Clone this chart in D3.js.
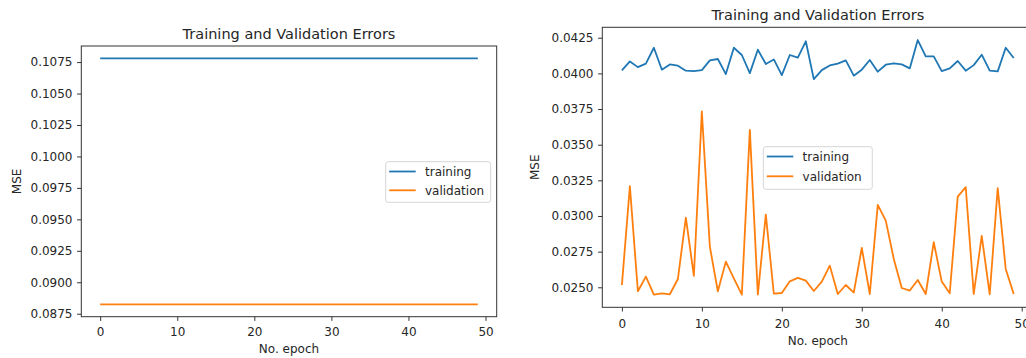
<!DOCTYPE html>
<html>
<head>
<meta charset="utf-8">
<script src="https://cdn.jsdelivr.net/npm/d3@7"></script>
<style>
body{margin:0;background:#fff;}
svg{display:block;font-family:"DejaVu Sans",sans-serif;}
</style>
</head>
<body>
<div id="viz"><svg></svg></div>
<script>
// epochs on the x axis
const epochs = d3.range(50);
const seriesNames = ['training', 'validation'];

// left panel: both curves are flat
const leftTraining = [
  0.1078,0.1078,0.1078,0.1078,0.1078,0.1078,0.1078,0.1078,0.1078,0.1078,
  0.1078,0.1078,0.1078,0.1078,0.1078,0.1078,0.1078,0.1078,0.1078,0.1078,
  0.1078,0.1078,0.1078,0.1078,0.1078,0.1078,0.1078,0.1078,0.1078,0.1078,
  0.1078,0.1078,0.1078,0.1078,0.1078,0.1078,0.1078,0.1078,0.1078,0.1078,
  0.1078,0.1078,0.1078,0.1078,0.1078,0.1078,0.1078,0.1078,0.1078,0.1078];
const leftValidation = [
  0.08824,0.08824,0.08824,0.08824,0.08824,0.08824,0.08824,0.08824,0.08824,0.08824,
  0.08824,0.08824,0.08824,0.08824,0.08824,0.08824,0.08824,0.08824,0.08824,0.08824,
  0.08824,0.08824,0.08824,0.08824,0.08824,0.08824,0.08824,0.08824,0.08824,0.08824,
  0.08824,0.08824,0.08824,0.08824,0.08824,0.08824,0.08824,0.08824,0.08824,0.08824,
  0.08824,0.08824,0.08824,0.08824,0.08824,0.08824,0.08824,0.08824,0.08824,0.08824];

// right panel
const rightTraining = [
  0.04021,0.04084,0.04044,0.04068,0.04180,0.04026,0.04063,0.04054,0.04019,0.04016,
  0.04023,0.04091,0.04101,0.03995,0.04180,0.04129,0.04002,0.04166,0.04066,0.04098,
  0.03988,0.04129,0.04110,0.04225,0.03960,0.04023,0.04056,0.04068,0.04091,0.03984,
  0.04026,0.04094,0.04012,0.04061,0.04070,0.04063,0.04035,0.04234,0.04119,0.04119,
  0.04016,0.04035,0.04087,0.04019,0.04058,0.04131,0.04019,0.04014,0.04180,0.04108];
const rightValidation = [
  0.02516,0.03209,0.02472,0.02575,0.02449,0.02458,0.02451,0.02558,0.02989,0.02580,
  0.03733,0.02785,0.02472,0.02680,0.02563,0.02449,0.03604,0.02449,0.03010,0.02456,
  0.02460,0.02542,0.02566,0.02547,0.02474,0.02540,0.02652,0.02453,0.02516,0.02463,
  0.02776,0.02453,0.03078,0.02968,0.02699,0.02495,0.02477,0.02551,0.02453,0.02816,
  0.02540,0.02458,0.03136,0.03202,0.02453,0.02860,0.02451,0.03195,0.02629,0.02453];

const xTicks = [0, 10, 20, 30, 40, 50];
const leftYTicks = [0.0875,0.0900,0.0925,0.0950,0.0975,0.1000,0.1025,0.1050,0.1075];
const rightYTicks = [0.0250,0.0275,0.0300,0.0325,0.0350,0.0375,0.0400,0.0425];

const titleText = 'Training and Validation Errors';
const xLabelText = 'No. epoch';
const yLabelText = 'MSE';

const COLOR = {
  training: '#1f77b4',
  validation: '#ff7f0e',
  text: '#262626',
  spine: '#333333',
  legendEdge: '#d6d6d6'
};

const SETTINGS = {width: 1026, height: 358, tick: 4.2, fontSize: 12, titleSize: 14.5, lineWidth: 1.8};

const PANELS = [
  {left: 81.3, right: 496.7, top: 46, bottom: 316.7,
   series: [leftTraining, leftValidation], yTicks: leftYTicks,
   yLabelX: 17, xLabelY: 353, xPad: 6.2,
   legend: {x: 385.7, y: 161.7, w: 105, h: 40.6}},
  {left: 602.3, right: 1033.3, top: 27.3, bottom: 307.3,
   series: [rightTraining, rightValidation], yTicks: rightYTicks,
   yLabelX: 535, xLabelY: 345, xPad: 7.6,
   legend: {x: 763.3, y: 146.7, w: 109, h: 42.6}}
];

function padded([a, b]) {
  let pad = (b - a) * 0.05;
  return [a - pad, b + pad];
}

function drawPanel(svg, p) {
  let x = d3.scaleLinear()
    .domain(padded(d3.extent(epochs)))
    .range([p.left, p.right]);
  let y = d3.scaleLinear()
    .domain(padded(d3.extent(p.series.flat())))
    .range([p.bottom, p.top]);

  let g = svg.append('g');

  // lines
  let line = d3.line()
    .x((d, i) => x(epochs[i]))
    .y(d => y(d));
  g.selectAll('.series')
    .data(p.series)
    .enter()
    .append('path')
    .attr('class', 'series')
    .attr('d', line)
    .attr('fill', 'none')
    .attr('stroke', (d, i) => COLOR[seriesNames[i]])
    .attr('stroke-width', SETTINGS.lineWidth)
    .attr('stroke-linejoin', 'round');

  // axes
  let xAxis = g.append('g')
    .attr('transform', `translate(0,${p.bottom})`)
    .call(d3.axisBottom(x).tickValues(xTicks).tickSize(SETTINGS.tick).tickPadding(p.xPad));
  let yAxis = g.append('g')
    .attr('transform', `translate(${p.left},0)`)
    .call(d3.axisLeft(y).tickValues(p.yTicks).tickFormat(d3.format('.4f'))
      .tickSize(SETTINGS.tick).tickPadding(4.6));
  [xAxis, yAxis].forEach(a => {
    a.select('.domain').remove();
    a.selectAll('line').attr('stroke', COLOR.spine).attr('stroke-width', 1);
    a.selectAll('text')
      .attr('fill', COLOR.text)
      .attr('font-size', SETTINGS.fontSize)
      .attr('font-family', '"DejaVu Sans", sans-serif');
  });

  // frame
  g.append('rect')
    .attr('x', p.left)
    .attr('y', p.top)
    .attr('width', p.right - p.left)
    .attr('height', p.bottom - p.top)
    .attr('fill', 'none')
    .attr('stroke', COLOR.spine)
    .attr('stroke-width', 1);

  // title and labels
  g.append('text')
    .attr('x', (p.left + p.right) / 2)
    .attr('y', p.top - 7.2)
    .attr('text-anchor', 'middle')
    .attr('font-size', SETTINGS.titleSize)
    .attr('fill', COLOR.text)
    .text(titleText);
  g.append('text')
    .attr('x', (p.left + p.right) / 2)
    .attr('y', p.xLabelY)
    .attr('text-anchor', 'middle')
    .attr('font-size', SETTINGS.fontSize)
    .attr('fill', COLOR.text)
    .text(xLabelText);
  g.append('text')
    .attr('transform', `translate(${p.yLabelX},${(p.top + p.bottom) / 2}) rotate(-90)`)
    .attr('text-anchor', 'middle')
    .attr('dy', '0.35em')
    .attr('font-size', SETTINGS.fontSize)
    .attr('fill', COLOR.text)
    .text(yLabelText);

  // legend
  let lg = g.append('g')
    .attr('transform', `translate(${p.legend.x},${p.legend.y})`);
  lg.append('rect')
    .attr('width', p.legend.w)
    .attr('height', p.legend.h)
    .attr('rx', 2.5)
    .attr('fill', '#fff')
    .attr('stroke', COLOR.legendEdge)
    .attr('stroke-width', 1);
  let rowH = (p.legend.h - 3) / 2;
  let items = lg.selectAll('.item')
    .data(seriesNames)
    .enter()
    .append('g')
    .attr('class', 'item')
    .attr('transform', (d, i) => `translate(0,${9.8 + i * rowH})`);
  items.append('line')
    .attr('x1', 3.5)
    .attr('x2', 30)
    .attr('stroke', d => COLOR[d])
    .attr('stroke-width', SETTINGS.lineWidth);
  items.append('text')
    .attr('x', 39.3)
    .attr('dy', '0.35em')
    .attr('font-size', SETTINGS.fontSize)
    .attr('fill', COLOR.text)
    .text(d => d);
}

let svg = d3.select('#viz').select('svg')
  .attr('width', SETTINGS.width)
  .attr('height', SETTINGS.height);

PANELS.forEach(p => drawPanel(svg, p));
</script>
</body>
</html>
